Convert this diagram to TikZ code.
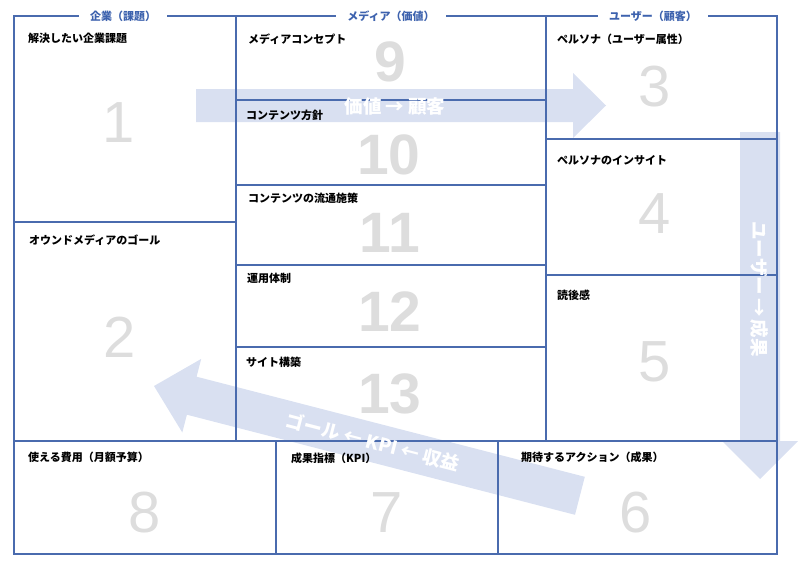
\documentclass[tikz,border=0pt]{standalone}
\usepackage{fontspec}
\newfontfamily\jp{Noto Sans CJK JP}
\newfontfamily\numfont{Liberation Sans}
\definecolor{lineblue}{HTML}{4A6BAE}
\definecolor{hdrblue}{HTML}{3D62AE}
\definecolor{arrowblue}{HTML}{D9E0F1}
\definecolor{numgray}{HTML}{DDDDDD}
\begin{document}
\begin{tikzpicture}[x=1pt,y=-1pt,
  frame/.style={draw=lineblue, line width=1.1pt},
  hdr/.style={font=\jp\bfseries\fontsize{11}{12}\selectfont, text=hdrblue, fill=white, inner xsep=11pt, inner ysep=2pt},
  lbl/.style={font=\jp\bfseries\fontsize{11}{12}\selectfont, anchor=west, inner sep=0pt},
  num/.style={font=\numfont\fontsize{58}{58}\selectfont, text=numgray, inner sep=0pt},
  bnum/.style={font=\numfont\bfseries\fontsize{57}{57}\selectfont, text=numgray, inner sep=0pt},
  flow/.style={fill=arrowblue, draw=none},
  flowtext/.style={font=\jp\bfseries\fontsize{18.5}{19}\selectfont, text=white, inner sep=0pt}
]
\useasboundingbox (0,0) rectangle (800,570);
% flow arrows (background)
\fill[flow] (196,89) -- (573,89) -- (573,73) -- (606,105.5) -- (573,138) -- (573,122) -- (196,122) -- cycle;
\fill[flow] (740,132) -- (780,132) -- (780,441) -- (798,441) -- (760,479) -- (722,441) -- (740,441) -- cycle;
\fill[flow] (154,386) -- (201.2,358.9) -- (196.6,376.7) -- (584.8,476.8) -- (575.0,514.8) -- (186.9,414.7) -- (182.3,432.5) -- cycle;
% grid
\draw[frame] (14,16) rectangle (777,554);
\draw[frame] (236,16) -- (236,441);
\draw[frame] (546,16) -- (546,441);
\draw[frame] (14,222) -- (236,222);
\foreach \yy in {100,185,265,347} \draw[frame] (236,\yy) -- (546,\yy);
\draw[frame] (546,139) -- (777,139);
\draw[frame] (546,275) -- (777,275);
\draw[frame] (14,441) -- (777,441);
\draw[frame] (276,441) -- (276,554);
\draw[frame] (498,441) -- (498,554);
% headers
\node[hdr] (h1) at (123,16) {企業（課題）};
\node[hdr] (h2) at (391,16) {メディア（価値）};
\node[hdr] (h3) at (653,16) {ユーザー（顧客）};
% numbers
\node[num] (n1) at (119,123) {1};
\node[num] (n2) at (120,337) {2};
\node[num] (n3) at (655,87) {3};
\node[num] (n4) at (655,214) {4};
\node[num] (n5) at (655,362) {5};
\node[num] (n6) at (636,513) {6};
\node[num] (n7) at (387,513) {7};
\node[num] (n8) at (145,513) {8};
\node[bnum] (n9) at (390,62) {9};
\node[bnum] (n10) at (389,155) {10};
\node[bnum] (n11) at (390,233) {11};
\node[bnum] (n12) at (390,312) {12};
\node[bnum] (n13) at (390,394) {13};
% labels
\node[lbl] (l1) at (28,38) {解決したい企業課題};
\node[lbl] (l9) at (248,39) {メディアコンセプト};
\node[lbl] (l3) at (557,39) {ペルソナ（ユーザー属性）};
\node[lbl] (l10) at (246,115) {コンテンツ方針};
\node[lbl] (l4) at (557,160) {ペルソナのインサイト};
\node[lbl] (l11) at (248,198) {コンテンツの流通施策};
\node[lbl] (l2) at (29,240) {オウンドメディアのゴール};
\node[lbl] (l12) at (247,278) {運用体制};
\node[lbl] (l5) at (557,295) {読後感};
\node[lbl] (l13) at (246,362) {サイト構築};
\node[lbl] (l8) at (28,457) {使える費用（月額予算）};
\node[lbl] (l7) at (291,458) {成果指標（KPI）};
\node[lbl] (l6) at (521,457) {期待するアクション（成果）};
% arrow texts
\node[flowtext] (t1) at (395,106) {価値 → 顧客};
\node[flowtext, rotate=-90] (t2) at (760,289) {ユーザー\,→\,成果};
\node[flowtext, rotate=-14.45] (t3) at (373,442) {ゴール ← KPI ← 収益};
\end{tikzpicture}
\end{document}
